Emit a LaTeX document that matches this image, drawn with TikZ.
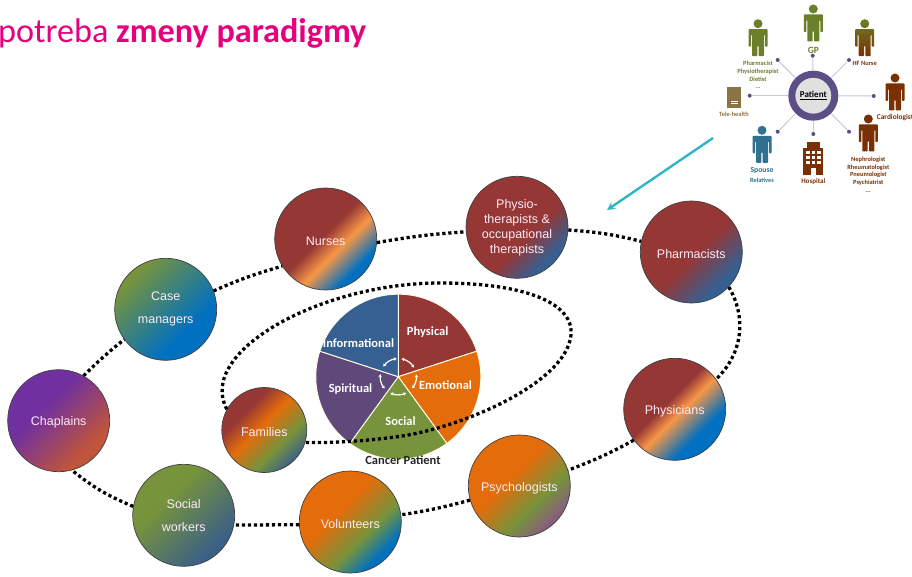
\documentclass[tikz,border=0pt]{standalone}
\usepackage{fontspec}
\usepackage{tikz}
\usetikzlibrary{arrows.meta}
\setmainfont{Liberation Sans}
\newfontfamily\calfont{Carlito}

\definecolor{ptred}{HTML}{953735}
\definecolor{ptorange}{HTML}{E46C0A}
\definecolor{ptpeach}{HTML}{F79646}
\definecolor{ptblue}{HTML}{0070C0}
\definecolor{ptnavy}{HTML}{366092}
\definecolor{ptgreen}{HTML}{77933C}
\definecolor{ptpurple}{HTML}{7030A0}
\definecolor{ptplum}{HTML}{5F497A}
\definecolor{ptrust}{HTML}{C0553A}
\definecolor{ptslate}{HTML}{3B6086}
\definecolor{ptmauve}{HTML}{85607A}
\definecolor{ptmagenta}{HTML}{E6007E}
\definecolor{ptteal}{HTML}{2FB5C6}
\definecolor{insetolive}{HTML}{6B7F2A}
\definecolor{insetbrown}{HTML}{7A3000}
\definecolor{insetblue}{HTML}{31708F}
\definecolor{insettan}{HTML}{8B7345}
\definecolor{insetring}{HTML}{5B4F86}
\definecolor{insetspoke}{HTML}{C5C8D8}

\pgfdeclarehorizontalshading{nursesfill}{100bp}{color(0bp)=(ptred); color(48bp)=(ptred); color(58bp)=(ptpeach); color(71bp)=(ptblue); color(100bp)=(ptblue)}
\pgfdeclarehorizontalshading{physiciansfill}{100bp}{color(0bp)=(ptred); color(45bp)=(ptred); color(53bp)=(ptpeach); color(67bp)=(ptblue); color(100bp)=(ptblue)}
\pgfdeclarehorizontalshading{casefill}{100bp}{color(0bp)=(ptgreen); color(27bp)=(ptgreen); color(65bp)=(ptblue); color(100bp)=(ptblue)}
\pgfdeclarehorizontalshading{chaplainsfill}{100bp}{color(0bp)=(ptpurple); color(40bp)=(ptpurple); color(70bp)=(ptrust); color(100bp)=(ptrust)}
\pgfdeclarehorizontalshading{familiesfill}{100bp}{color(0bp)=(ptred); color(34bp)=(ptred); color(47bp)=(ptorange); color(63bp)=(ptgreen); color(75bp)=(ptslate); color(100bp)=(ptslate)}
\pgfdeclarehorizontalshading{socialfill}{100bp}{color(0bp)=(ptgreen); color(38bp)=(ptgreen); color(72bp)=(ptslate); color(100bp)=(ptslate)}
\pgfdeclarehorizontalshading{volunteersfill}{100bp}{color(0bp)=(ptorange); color(42bp)=(ptorange); color(60bp)=(ptgreen); color(72bp)=(ptblue); color(100bp)=(ptblue)}
\pgfdeclarehorizontalshading{psychfill}{100bp}{color(0bp)=(ptorange); color(44bp)=(ptorange); color(62bp)=(ptgreen); color(73bp)=(ptmauve); color(100bp)=(ptmauve)}
\pgfdeclarehorizontalshading{pharmfill}{100bp}{color(0bp)=(ptred); color(52bp)=(ptred); color(71bp)=(ptnavy); color(100bp)=(ptnavy)}
\pgfdeclarehorizontalshading{physiofill}{100bp}{color(0bp)=(ptred); color(57bp)=(ptred); color(72bp)=(ptnavy); color(100bp)=(ptnavy)}

\tikzset{
  careteam/.style={circle, minimum size=102pt, inner sep=0pt, draw=black!75, line width=0.7pt,
    align=center, text=white!92!magenta, shading angle=-45, font=\fontsize{12.5}{15}\selectfont,
    execute at begin node={\rule{0pt}{13pt}}},
  dotline/.style={line width=3.3pt, dash pattern=on 3.2pt off 2.8pt, black},
  slicelabel/.style={text=white, inner sep=0pt, font=\calfont\bfseries\fontsize{12.5}{15}\selectfont},
  slicearrow/.style={white, line width=1.2pt, {Stealth[length=3pt,width=3.5pt]}-{Stealth[length=3pt,width=3.5pt]}},
  tinylabel/.style={inner sep=0pt, font=\calfont\bfseries\fontsize{6.4}{7}\selectfont},
  spokedot/.style={circle, fill=insetring, minimum size=4pt, inner sep=0pt},
  person/.pic={
    \path[pic actions, rounded corners=0.8pt] (0,0) circle[radius=4.5pt]
      (-9.5,23) -- (-9.5,5.5) -- (9.5,5.5) -- (9.5,23) -- (7,23) -- (7,11) -- (6,11) -- (6,32.5)
      -- (0.7,32.5) -- (0.7,22) -- (-0.7,22) -- (-0.7,32.5) -- (-6,32.5) -- (-6,11) -- (-7,11)
      -- (-7,23) -- cycle;
  }
}

\begin{document}
\begin{tikzpicture}[x=1pt, y=-1pt]
  \useasboundingbox (0,0) rectangle (912,577);

  \node[anchor=base west, inner sep=0pt, text=ptmagenta, font=\calfont\fontsize{34.2}{36}\selectfont] (title) at (-2,43) {potreba \textbf{zmeny paradigmy}};

  % outer ring
  \node[careteam, shading=nursesfill] (nurses) at (325.7,239) {Nurses};
  \node[careteam, shading=casefill] (case) at (165.7,309.3) {Case\\[8pt]managers};
  \node[careteam, shading=chaplainsfill] (chaplains) at (58.7,420.7) {Chaplains};
  \node[careteam, shading=socialfill] (social) at (183.7,515.3) {Social\\[8pt]workers};
  \node[careteam, shading=volunteersfill] (volunteers) at (350.3,522) {Volunteers};
  \node[careteam, shading=psychfill] (psych) at (519.3,486) {Psychologists};
  \node[careteam, shading=physiciansfill] (physicians) at (674.7,409.3) {Physicians};
  \node[careteam, shading=pharmfill] (pharm) at (691.3,252) {Pharmacists};
  \node[careteam, shading=physiofill] (physio) at (517,227.3) {Physio-\\therapists \&\\occupational\\therapists};
  \node[careteam, shading=familiesfill, minimum size=85pt] (families) at (264.3,430) {Families};

  \foreach \from/\p/\to/\q/\b in {chaplains/61/case/216/3, case/21/nurses/212/4, nurses/-4/physio/185/3,
    physio/-3/pharm/168/5, pharm/-43/physicians/36/38, physicians/217/psych/18/4,
    psych/196/volunteers/8/3, volunteers/183/social/-11/0, social/170/chaplains/-75/8}
    \draw[dotline] (\from.\p) to[bend left=\b] (\to.\q);

  % pie
  \coordinate (pie) at (398.3,376.7);
  \foreach \a/\e/\c in {90/18/ptred, 18/-54/ptorange, -54/-126/ptgreen, -126/-198/ptplum, -198/-270/ptnavy}
    \filldraw[fill=\c, draw=white!90!yellow, line width=0.9pt] (pie) -- ++(\a:82.5pt) arc[start angle=\a, end angle=\e, radius=82.5pt] -- cycle;
  \foreach \a/\e in {146/95, 80/30, 7/-40, -64/-116, -139/-188}
    \draw[slicearrow] (pie) ++(\a:18pt) arc[start angle=\a, end angle=\e, radius=18pt];

  \node[slicelabel] (physical) at (427.7,332.5) {Physical};
  \node[slicelabel] (emotional) at (445.5,385) {Emotional};
  \node[slicelabel] (socialslice) at (400.5,421) {Social};
  \node[slicelabel] (spiritual) at (350.5,389.5) {Spiritual};
  \node[slicelabel] (informational) at (358.5,343.5) {Informational};
  \node[slicelabel, text=black!85] (cancer) at (403,460.5) {Cancer Patient};

  \draw[dotline] (families.151) .. controls (196,352) and (320,283) .. (440,283)
    .. controls (530,283) and (574,305) .. (571,335)
    .. controls (566,385) and (455,430) .. (395,437)
    .. controls (365,441) and (335,443) .. (families.-17);

  % inset
  \node[circle, minimum size=43pt, inner sep=0pt, draw=insetring, line width=7pt, fill=black!12] (hub) at (813.3,95.7)
    {\calfont\bfseries\fontsize{9}{10}\selectfont\underline{Patient}};
  \foreach \i/\x/\y in {1/777.7/60, 2/812.7/55.7, 3/849/60, 4/873.7/96, 5/849/131.7, 6/813.3/134, 7/777.7/131.7, 8/749.7/95.7}{
    \node[spokedot] (dot\i) at (\x,\y) {};
    \draw[insetspoke, line width=1pt] (hub) -- (dot\i);
  }
  \pic[fill=insetolive] at (758,23.7) {person};
  \pic[fill=insetolive] at (813.3,9) {person};
  \pic[top color=insetolive, bottom color=insetbrown] at (864.7,23.7) {person};
  \pic[fill=insetbrown] at (895,78) {person};
  \pic[fill=insetbrown] at (868.3,119) {person};
  \pic[fill=insetblue] at (762,130.3) {person};

  \node[tinylabel, text=insetolive, align=center] (pharmacist) at (758,75) {Pharmacist\\[0.7pt]Physiotherapist\\[0.7pt]Dietist\\[0.7pt]...};
  \node[tinylabel, text=insetolive, font=\calfont\bfseries\fontsize{9.5}{10}\selectfont] (gp) at (813.3,50) {GP};
  \node[tinylabel, text=insetbrown] (nurse) at (864.7,63.3) {HF Nurse};
  \node[tinylabel, text=insetbrown, anchor=west, font=\calfont\bfseries\fontsize{7.4}{8}\selectfont] (cardio) at (876.7,118) {Cardiologist};
  \node[tinylabel, text=insetbrown, align=center] (nephro) at (868.3,174.5) {Nephrologist\\[0.7pt]Rheumatologist\\[0.7pt]Pneumologist\\[0.7pt]Psychiatrist\\[0.7pt]...};
  \node[tinylabel, text=insetblue, font=\calfont\bfseries\fontsize{7.7}{8}\selectfont] (spouse) at (762,170.7) {Spouse};
  \node[tinylabel, text=insetblue] (relatives) at (762,180) {Relatives};
  \node[tinylabel, text=insetbrown, font=\calfont\bfseries\fontsize{7}{8}\selectfont] (hospitaltext) at (813.3,182) {Hospital};
  \node[tinylabel, text=insettan] (teletext) at (734,114) {Tele-health};

  \node[fill=insettan, minimum width=13.7pt, minimum height=21pt, inner sep=0pt] (tele) at (734.2,97.8) {};
  \draw[white, line width=0.6pt] (731,101) -- (738,101) (731,103) -- (738,103);

  \fill[insetbrown] (803.3,148) rectangle (823.3,175);
  \fill[insetbrown] (806.5,142) rectangle (820,148);
  \foreach \x in {806,811.5,817}
    \foreach \y in {151,156,161}
      \fill[white] (\x,\y) rectangle ++(3.5,3);
  \fill[white] (810.5,168) rectangle (816,175);

  \coordinate (arrowstart) at (713,138);
  \coordinate (arrowend) at (607,210);
  \draw[ptteal, line width=2.4pt, -{Stealth[length=8pt,width=8pt]}] (arrowstart) -- (arrowend);
\end{tikzpicture}
\end{document}
